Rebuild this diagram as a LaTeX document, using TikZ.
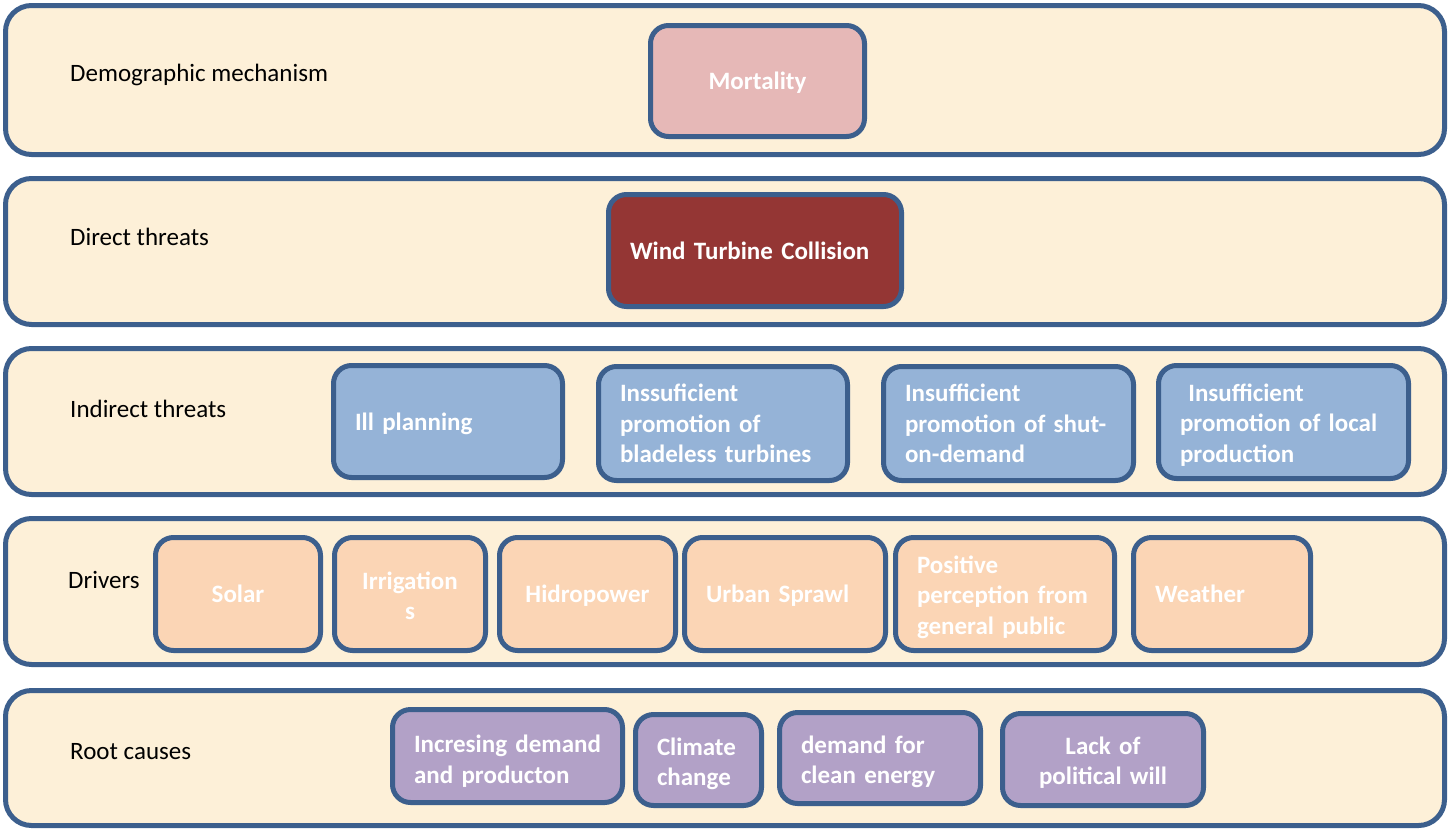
\documentclass[tikz,border=0pt]{standalone}
\usepackage{fontspec}
\setmainfont{Carlito}
\definecolor{bord}{HTML}{3C5F8D}
\definecolor{band}{HTML}{FDF0D8}
\definecolor{pinkf}{HTML}{E6B8B7}
\definecolor{redf}{HTML}{943634}
\definecolor{bluef}{HTML}{95B3D7}
\definecolor{peachf}{HTML}{FBD5B5}
\definecolor{purpf}{HTML}{B2A1C7}
\tikzset{
  bandbox/.style={draw=bord, fill=band, line width=5pt, rounded corners=26pt, minimum width=1439pt, inner sep=0pt},
  lbl/.style={font=\fontsize{25}{30.5}\selectfont, anchor=base west, inner sep=0pt},
  bx/.style={draw=bord, line width=5pt, rounded corners=18pt, text=white, inner ysep=0pt,
    font=\bfseries\fontsize{25}{30.5}\selectfont},
  bxl/.style={bx, align=left, inner xsep=21.5pt},
  bxc/.style={bx, align=center, inner xsep=4pt},
  tdown/.style={execute at end node={\par\vspace{-#1}}},
}
\begin{document}
\begin{tikzpicture}[x=1pt,y=-1pt]
\useasboundingbox (0,0) rectangle (1450,830);
% bands
\node[bandbox, minimum height=149pt] (b1) at (725,80) {};
\node[bandbox, minimum height=146pt] (b2) at (725,251.5) {};
\node[bandbox, minimum height=146pt] (b3) at (725,421.5) {};
\node[bandbox, minimum height=146pt] (b4) at (725,591.5) {};
\node[bandbox, minimum height=135pt] (b5) at (725,758) {};
% labels
\node[lbl] (l1) at (70,81) {Demographic mechanism};
\node[lbl] (l2) at (70,245) {Direct threats};
\node[lbl] (l3) at (70,417) {Indirect threats};
\node[lbl] (l4) at (68,588) {Drivers};
\node[lbl] (l5) at (70,759) {Root causes};
% row 1
\node[bxc, tdown=4pt, fill=pinkf, minimum width=214pt, minimum height=111pt, text width=200pt] (mort) at (757.5,81) {Mortality};
% row 2
\node[bxl, tdown=2pt, fill=redf, minimum width=293pt, minimum height=112pt, text width=250pt] (wtc) at (755,250.5) {Wind Turbine Collision};
% row 3
\node[bxl, tdown=8pt, fill=bluef, minimum width=229pt, minimum height=112pt, text width=186pt] (ill) at (448,421.5) {Ill planning};
\node[bxl, fill=bluef, minimum width=249pt, minimum height=114pt, text width=206pt] (blade) at (723,423.5) {Inssuficient\\promotion of\\bladeless turbines};
\node[bxl, fill=bluef, minimum width=250pt, minimum height=114pt, text width=207pt] (shut) at (1008.5,423.5) {Insufficient\\promotion of shut-\\on-demand};
\node[bxl, tdown=6pt, fill=bluef, minimum width=250pt, minimum height=113pt, text width=207pt] (local) at (1283.5,422) {\ Insufficient\\promotion of local\\production};
% row 4
\node[bxc, tdown=4pt, fill=peachf, minimum width=165pt, minimum height=113pt, text width=150pt] (solar) at (238,594) {Solar};
\node[bxc, tdown=4pt, fill=peachf, minimum width=151pt, minimum height=113pt, text width=130pt] (irr) at (410,594) {Irrigation\\s};
\node[bxc, tdown=6pt, fill=peachf, minimum width=176pt, minimum height=113pt, text width=160pt] (hydro) at (587.5,594) {Hidropower};
\node[bxl, tdown=6pt, fill=peachf, minimum width=201pt, minimum height=113pt, text width=158pt] (urban) at (785,594) {Urban Sprawl};
\node[bxl, tdown=6pt, fill=peachf, minimum width=219pt, minimum height=113pt, text width=176pt] (pos) at (1005,594) {Positive\\perception from\\general public};
\node[bxl, tdown=2pt, fill=peachf, minimum width=177pt, minimum height=113pt, text width=134pt] (weather) at (1222,594) {Weather};
% row 5
\node[bxl, tdown=10pt, fill=purpf, minimum width=230pt, minimum height=93pt, text width=187pt] (incr) at (507.5,756) {Incresing demand\\and producton};
\node[bxl, tdown=8pt, fill=purpf, minimum width=126pt, minimum height=91pt, text width=83pt] (clim) at (698.5,760) {Climate\\change};
\node[bxl, tdown=8pt, fill=purpf, minimum width=201pt, minimum height=91pt, text width=158pt] (clean) at (880,758) {demand for\\clean energy};
\node[bxc, tdown=6pt, fill=purpf, minimum width=201pt, minimum height=92pt, text width=190pt] (lack) at (1103,759.5) {Lack of\\political will};
\end{tikzpicture}
\end{document}
